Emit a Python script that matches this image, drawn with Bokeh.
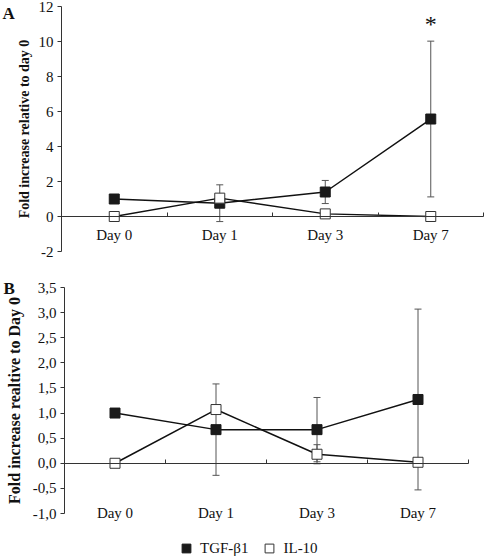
from bokeh.plotting import figure
from bokeh.layouts import column
from bokeh.models import (Range1d, LinearAxis, FixedTicker, CustomJSTickFormatter,
                          Label, Legend, LegendItem)
from bokeh.embed import file_html
from bokeh.resources import INLINE

# ---------------- data ----------------
days = ["Day 0", "Day 1", "Day 3", "Day 7"]
series_names = ["TGF-β1", "IL-10"]

a_tgf = [1.0, 0.76, 1.40, 5.57]
a_tgf_err = [0.0, 1.05, 0.66, 4.45]
a_il10 = [0.0, 1.05, 0.15, 0.0]
a_il10_err = [0.0, 0.0, 0.0, 0.0]
a_ticks = [-2, 0, 2, 4, 6, 8, 10, 12]

b_tgf = [1.0, 0.67, 0.67, 1.27]
b_tgf_err = [0.0, 0.91, 0.64, 1.80]
b_il10 = [0.0, 1.07, 0.18, 0.02]
b_il10_err = [0.0, 0.0, 0.19, 0.0]
b_ticks = [-1.0, -0.5, 0.0, 0.5, 1.0, 1.5, 2.0, 2.5, 3.0, 3.5]

# ---------------- styling / layout ----------------
SERIF = "Liberation Serif"
AX = "#333333"
ERR = "#555555"
INK = "#111111"
W = 484

xs = [i + 0.5 for i in range(len(days))]
bounds = [i + 1 for i in range(len(days))]


def make_panel(tgf, tgf_err, il10, il10_err, ticks, ylabel, decimals, H,
               px_left, px_right, px_top, px_bottom, title_size, label_standoff,
               ax_label_standoff):
    """px_* : pixel positions of the axes box inside this panel's canvas."""
    y0, y1 = ticks[0], ticks[-1]
    ux = (px_right - px_left) / len(days)
    uy = (px_bottom - px_top) / (y1 - y0)
    xr = Range1d(-px_left / ux, len(days) + (W - px_right) / ux)
    yr = Range1d(y0 - (H - px_bottom) / uy, y1 + px_top / uy)

    p = figure(width=W, height=H, output_backend="svg", toolbar_location=None,
               x_range=xr, y_range=yr, x_axis_location=None, y_axis_location=None,
               min_border=0)
    p.outline_line_color = None
    p.xgrid.visible = False
    p.ygrid.visible = False

    # y axis (hyphen minus and decimal comma as in the original)
    yax = LinearAxis(fixed_location=0, bounds=(y0, y1), ticker=FixedTicker(ticks=ticks),
                     axis_label=ylabel,
                     formatter=CustomJSTickFormatter(
                         args=dict(d=decimals),
                         code="return tick.toFixed(d).replace('.', ',');"))
    yax.axis_line_color = AX
    yax.major_tick_line_color = AX
    yax.major_tick_out = 4
    yax.major_tick_in = 0
    yax.minor_tick_line_color = None
    yax.major_label_text_font = SERIF
    yax.major_label_text_font_size = "15px"
    yax.major_label_text_color = INK
    yax.major_label_standoff = 4
    yax.axis_label_text_font = SERIF
    yax.axis_label_text_font_style = "bold"
    yax.axis_label_text_font_size = title_size
    yax.axis_label_text_color = INK
    yax.axis_label_standoff = ax_label_standoff
    p.add_layout(yax, "left")

    # category axis line at y = 0 with inward ticks at the category boundaries
    xax = LinearAxis(fixed_location=0, bounds=(0, len(days)), ticker=FixedTicker(ticks=bounds))
    xax.axis_line_color = AX
    xax.major_tick_line_color = AX
    xax.major_tick_in = 4
    xax.major_tick_out = 0
    xax.minor_tick_line_color = None
    xax.major_label_text_color = None
    xax.major_label_text_font_size = "0px"
    p.add_layout(xax, "below")

    # category labels
    lax = LinearAxis(fixed_location=0, ticker=FixedTicker(ticks=xs),
                     formatter=CustomJSTickFormatter(args=dict(labels=days),
                                                     code="return labels[Math.floor(tick)];"))
    lax.axis_line_color = None
    lax.major_tick_line_color = None
    lax.minor_tick_line_color = None
    lax.major_tick_in = 0
    lax.major_tick_out = 0
    lax.major_label_standoff = label_standoff
    lax.major_label_text_font = SERIF
    lax.major_label_text_font_size = "15px"
    lax.major_label_text_color = INK
    p.add_layout(lax, "below")

    def errbars(vals, errs):
        ex = [x for x, e in zip(xs, errs) if e > 0]
        lo = [v - e for v, e in zip(vals, errs) if e > 0]
        hi = [v + e for v, e in zip(vals, errs) if e > 0]
        if ex:
            p.segment(x0=ex, y0=lo, x1=ex, y1=hi, line_color=ERR, line_width=1)
            p.scatter(x=ex + ex, y=lo + hi, marker="dash", size=7, line_color=ERR, line_width=1)

    p.line(xs, tgf, line_color=INK, line_width=1.5)
    p.line(xs, il10, line_color=INK, line_width=1.5)
    errbars(tgf, tgf_err)
    errbars(il10, il10_err)
    r_tgf = p.scatter(xs, tgf, marker="square", size=10, fill_color="#1a1a1a",
                      line_color="#1a1a1a", line_width=1)
    r_il = p.scatter(xs, il10, marker="square", size=10, fill_color="white",
                     line_color="#333333", line_width=1)
    return p, r_tgf, r_il


HA, HB = 270, 287
pA, rA1, rA2 = make_panel(a_tgf, a_tgf_err, a_il10, a_il10_err, a_ticks,
                          "Fold increase relative to day 0", 0, HA,
                          px_left=61, px_right=483, px_top=6, px_bottom=251,
                          title_size="14px", label_standoff=10, ax_label_standoff=4)
pB, rB1, rB2 = make_panel(b_tgf, b_tgf_err, b_il10, b_il10_err, b_ticks,
                          "Fold increase realtive to Day 0", 1, HB,
                          px_left=64, px_right=468, px_top=17, px_bottom=243,
                          title_size="16px", label_standoff=42, ax_label_standoff=7)

# significance mark above Day 7 in panel A
pA.add_layout(Label(x=xs[3], y=11.0, text="*", text_font=SERIF, text_font_size="24px",
                    text_align="center", text_baseline="middle", text_color=INK))

# panel letters
pA.add_layout(Label(x=2, y=HA - 13, x_units="screen", y_units="screen", text="A",
                    text_font=SERIF, text_font_style="bold", text_font_size="17px",
                    text_baseline="alphabetic", text_align="left", text_color=INK))
pB.add_layout(Label(x=3, y=HB - 18, x_units="screen", y_units="screen", text="B",
                    text_font=SERIF, text_font_style="bold", text_font_size="17px",
                    text_baseline="alphabetic", text_align="left", text_color=INK))

legend = Legend(items=[LegendItem(label=series_names[0], renderers=[rB1]),
                       LegendItem(label=series_names[1], renderers=[rB2])],
                orientation="horizontal", location=(175, -2),
                glyph_width=22, glyph_height=22, label_standoff=3, spacing=10,
                padding=0, margin=0, border_line_color=None, background_fill_alpha=0,
                label_text_font=SERIF, label_text_font_size="15px",
                label_text_color=INK, label_height=22)
pB.add_layout(legend, "center")

layout = column(pA, pB, spacing=0)
open("out.html", "w").write(file_html(layout, INLINE))
